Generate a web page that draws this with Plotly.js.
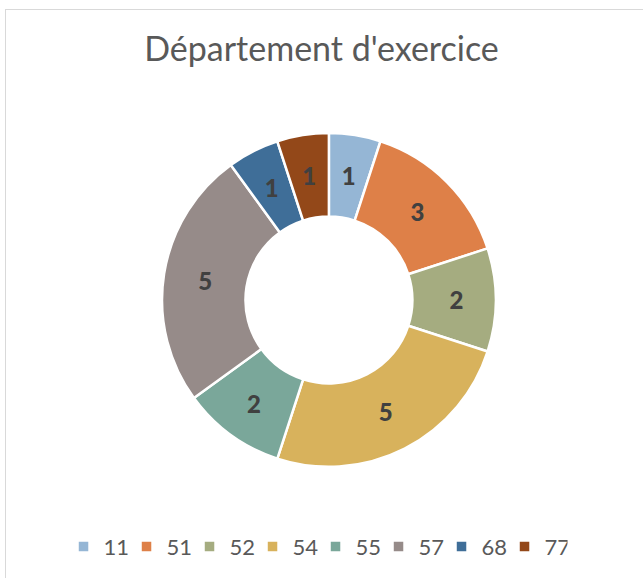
<!DOCTYPE html>
<html>
<head>
<meta charset="utf-8">
<script src="https://cdn.plot.ly/plotly-3.0.1.min.js"></script>
<style>
html,body{margin:0;padding:0;background:#fff;}
#wrap{position:relative;width:643px;height:578px;overflow:hidden;}
#chart{position:absolute;left:0;top:0;width:643px;height:578px;}
#frame{position:absolute;left:5px;top:9px;width:700px;height:700px;border:1.5px solid #d9d9d9;pointer-events:none;box-sizing:border-box;}
</style>
</head>
<body>
<div id="wrap"><div id="chart"></div><div id="frame"></div></div>
<script>
var categories = ['11','51','52','54','55','57','68','77'];
var values = [1,3,2,5,2,5,1,1];
var colors = ['#95B6D5','#DE8048','#A5AC80','#D8B25C','#7AA79A','#968B89','#3F6E98','#934819'];

var labelFont = {family: 'Lato, sans-serif', size: 24, color: '#404040', weight: 900};

// main ring: labels for the wider slices
var ring = {
  type: 'pie',
  labels: categories,
  values: values,
  hole: 0.5,
  sort: false,
  direction: 'clockwise',
  rotation: 0,
  marker: {colors: colors, line: {color: '#ffffff', width: 2.5}},
  texttemplate: values.map(function(v){ return v > 1 ? '%{value}' : ''; }),
  textposition: 'inside',
  insidetextorientation: 'horizontal',
  textfont: labelFont,
  domain: {x: [0.252, 0.771], y: [0.192, 0.770]},
  hoverinfo: 'label+value'
};

// transparent companion pie: places labels of the narrow slices at mid-ring
var narrowLabels = {
  type: 'pie',
  labels: categories,
  values: values,
  hole: 0,
  sort: false,
  direction: 'clockwise',
  rotation: 0,
  showlegend: false,
  marker: {colors: categories.map(function(){ return 'rgba(0,0,0,0)'; }), line: {width: 0}},
  texttemplate: values.map(function(v){ return v > 1 ? '' : '%{value}'; }),
  textposition: 'inside',
  insidetextorientation: 'horizontal',
  textfont: labelFont,
  domain: {x: [0.2851, 0.7383], y: [0.2289, 0.7331]},
  hoverinfo: 'skip'
};

var layout = {
  width: 643, height: 578,
  margin: {l: 0, r: 0, t: 0, b: 0},
  paper_bgcolor: '#ffffff',
  title: {text: "Département d'exercice", font: {family: 'Lato, sans-serif', size: 34, color: '#595959'}, x: 0.5, xanchor: 'center', y: 0.915, yanchor: 'middle', yref: 'container'},
  showlegend: true,
  legend: {orientation: 'h', x: 0.4907, xanchor: 'center', y: 0.054, yanchor: 'middle', entrywidth: 18, entrywidthmode: 'pixels', font: {family: 'Lato, sans-serif', size: 22, color: '#595959'}, traceorder: 'normal'}
};

Plotly.newPlot('chart', [ring, narrowLabels], layout, {displayModeBar: false, staticPlot: true});
</script>
</body>
</html>
